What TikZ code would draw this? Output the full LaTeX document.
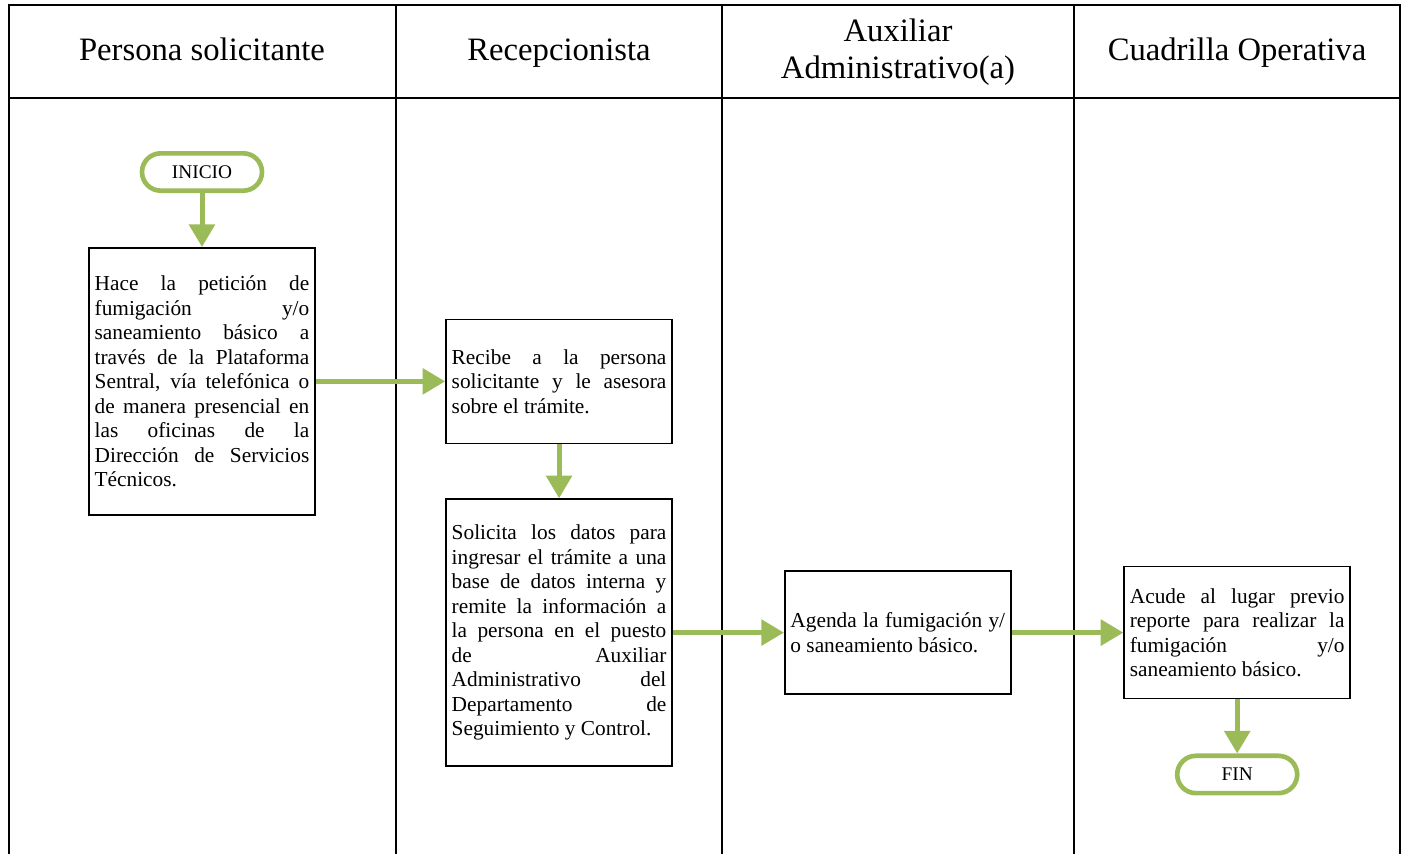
\documentclass[tikz,border=0pt]{standalone}
\usepackage{fontspec}
\setmainfont{Liberation Serif}
\usetikzlibrary{
  arrows.meta,
  positioning,
}
\definecolor{flowGreen}{RGB}{155,187,89}
\tikzset{
  lane line/.style = {
    draw,
    line width=1.3pt
  },
  lane title/.style = {
    align=center,
    font=\fontsize{24.5}{27.75}\selectfont
  },
  task box/.style = {
    draw,
    line width=1.3pt,
    text width=161pt,
    inner xsep=4.25pt,
    align=justify,
    font=\fontsize{16}{18.4}\selectfont
  },
  end box/.style = {
    draw=flowGreen,
    line width=3.5pt,
    rounded corners=14pt,
    minimum width=90pt,
    minimum height=28pt,
    font=\fontsize{14.5}{16}\selectfont
  },
  flow arrow/.style = {
    draw=flowGreen,
    line width=3.75pt,
    -{Triangle[length=17pt, width=19pt]}
  },
}

\begin{document}
\begin{tikzpicture}[x=0.75pt, y=-0.75pt]
  \useasboundingbox (0,0) rectangle (1403,854);
  %% lanes
  \draw[lane line] (9,854) -- (9,5) -- (1400,5) -- (1400,854);
  \draw[lane line] (9,98) -- (1400,98);
  \foreach \x in {396, 722, 1074} {
    \draw[lane line] (\x,5) -- (\x,854);
  }
  %% lane titles
  \node[lane title, anchor=base] (tPersona) at (202,60.5) {Persona solicitante};
  \node[lane title, anchor=base] (tRecep) at (559,60.5) {Recepcionista};
  \node[lane title] (tAux) at (898,52) {Auxiliar\\Administrativo(a)};
  \node[lane title, anchor=base] (tCuadrilla) at (1237,60.5) {Cuadrilla Operativa};
  %% steps
  \node[end box] (inicio) at (202,172) {INICIO};
  \node[task box, minimum height=200.25pt, below=40.5pt of inicio] (peticion) {Hace la petición de\linebreak fumigación y/o\linebreak saneamiento básico a\linebreak través de la Plataforma\linebreak Sentral, vía telefónica o\linebreak de manera presencial en\linebreak las oficinas de la\linebreak Dirección de Servicios\linebreak Técnicos.};
  \node[task box, minimum height=93pt, right=97pt of peticion] (recibe) {Recibe a la persona\linebreak solicitante y le asesora\linebreak sobre el trámite.};
  \node[task box, minimum height=200.25pt, below=40.5pt of recibe] (datos) {Solicita los datos para\linebreak ingresar el trámite a una\linebreak base de datos interna y\linebreak remite la información a\linebreak la persona en el puesto\linebreak de Auxiliar\linebreak Administrativo del\linebreak Departamento de\linebreak Seguimiento y Control.};
  \node[task box, minimum height=92.25pt, right=83.25pt of datos] (agenda) {Agenda la fumigación y/\linebreak o saneamiento básico.};
  \node[task box, minimum height=99pt, right=83.75pt of agenda] (acude) {Acude al lugar previo\linebreak reporte para realizar la\linebreak fumigación y/o\linebreak saneamiento básico.};
  \node[end box, below=40.5pt of acude] (fin) {FIN};
  %% arrows
  \draw[flow arrow] (inicio) -- (peticion);
  \draw[flow arrow] (peticion) -- (recibe);
  \draw[flow arrow] (recibe) -- (datos);
  \draw[flow arrow] (datos) -- (agenda);
  \draw[flow arrow] (agenda) -- (acude);
  \draw[flow arrow] (acude) -- (fin);
\end{tikzpicture}
\end{document}
